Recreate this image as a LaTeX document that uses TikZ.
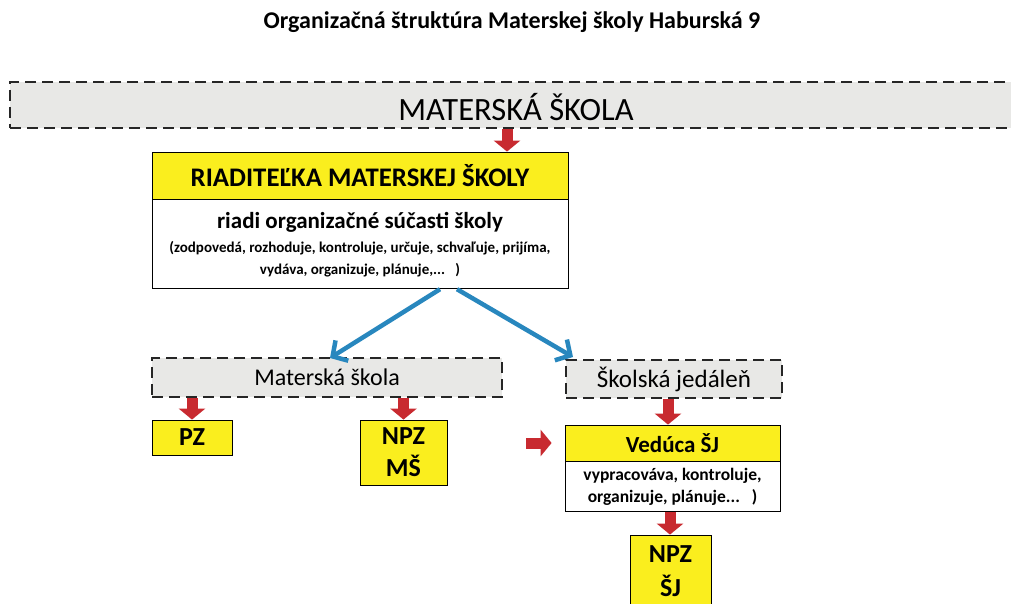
\documentclass[tikz,border=0pt]{standalone}
\usepackage{fontspec}
\setmainfont{Carlito}
\usetikzlibrary{arrows.meta,positioning,calc}

\definecolor{boxyellow}{RGB}{250,238,30}
\definecolor{arrowred}{RGB}{200,42,48}
\definecolor{arrowblue}{RGB}{40,135,190}
\definecolor{bandgray}{RGB}{232,232,230}

\newcommand{\fsz}[1]{\fontsize{#1}{1.2\dimexpr#1pt\relax}\selectfont}

\tikzset{
	yellowbox/.style={draw=black,thick,fill=boxyellow,align=center,inner sep=0pt},
	whitebox/.style={draw=black,thick,fill=white,align=center,inner sep=0pt},
	dashbox/.style={draw=black!85,line width=2.4pt,dash pattern=on 11pt off 6pt,fill=bandgray,inner sep=0pt},
	redarr/.style={arrowred,line width=11pt,-{Triangle[width=26pt,length=11pt]}},
	bluearr/.style={arrowblue,line width=4.5pt,-{Straight Barb[length=11pt,width=24pt,line width=4.5pt]}}
}

\begin{document}
\begin{tikzpicture}[x=1pt,y=-1pt]
	\useasboundingbox (0,0) rectangle (1011,604);
	\clip (0,0) rectangle (1011,604);

	% title
	\node[font=\fsz{24}\bfseries] (title) at (512,22) {Organizačná štruktúra Materskej školy Haburská 9};

	% top band
	\node[dashbox,minimum width=1010pt,minimum height=46pt,font=\fsz{32.5}] (band) at (515,105) {};
	\node[font=\fsz{32.5}] (bandtext) at (516,107) {MATERSKÁ ŠKOLA};

	% director
	\node[yellowbox,minimum width=416pt,minimum height=47pt,font=\fsz{26.8}\bfseries] (riad) at (360,175.5)
		{RIADITEĽKA MATERSKEJ ŠKOLY};
	\node[whitebox,minimum width=416pt,minimum height=89pt,below=0pt of riad,font=\fontsize{15}{22}\selectfont\bfseries] (riaddesc)
		{{\fsz{23}riadi organizačné súčasti školy}\\[2pt]
		 (zodpovedá, rozhoduje, kontroluje, určuje, schvaľuje, prijíma,\\
		 vydáva, organizuje, plánuje,...\ \ \ )};

	% second level
	\node[dashbox,minimum width=350pt,minimum height=39pt,font=\fsz{24}] (ms) at (327,377.5)
		{Materská škola};
	\node[dashbox,minimum width=216pt,minimum height=38pt,font=\fsz{25}] (sj) at (674,379)
		{Školská jedáleň};

	% staff
	\node[yellowbox,minimum width=80pt,minimum height=35pt,font=\fsz{26}\bfseries] (pz) at (192,437.5)
		{PZ};
	\node[yellowbox,minimum width=87pt,minimum height=65pt,font=\fontsize{26}{32}\selectfont\bfseries] (npzms) at (403.5,452.5)
		{NPZ\\MŠ};
	\node[yellowbox,minimum width=215pt,minimum height=36pt,font=\fsz{23}\bfseries] (ved) at (672.5,443)
		{Vedúca ŠJ};
	\node[whitebox,minimum width=215pt,minimum height=50pt,below=0pt of ved,font=\fontsize{17.5}{22}\selectfont\bfseries] (veddesc)
		{vypracováva, kontroluje,\\ organizuje, plánuje...\ \ \ )};
	\node[yellowbox,minimum width=81pt,minimum height=72pt,font=\fontsize{26}{34}\selectfont\bfseries] (npzsj) at (670.5,571)
		{NPZ\\ŠJ};
	\coordinate (feed) at (526,443);

	% arrows
	\draw[redarr] (band.south -| 507,0) -- (riad.north -| 507,0);
	\draw[bluearr] (riaddesc.south -| 440,0) -- (330,358);
	\draw[bluearr] (riaddesc.south -| 457,0) -- (573,357);
	\draw[redarr] (ms.south -| pz.north) -- (pz.north);
	\draw[redarr] (ms.south -| npzms.north) -- (npzms.north);
	\draw[redarr] (sj.south -| 668,0) -- (ved.north -| 668,0);
	\draw[redarr] (veddesc.south -| 670,0) -- (npzsj.north -| 670,0);
	\draw[redarr] (feed) -- ($(ved.west)+(-13,0)$);
\end{tikzpicture}
\end{document}
